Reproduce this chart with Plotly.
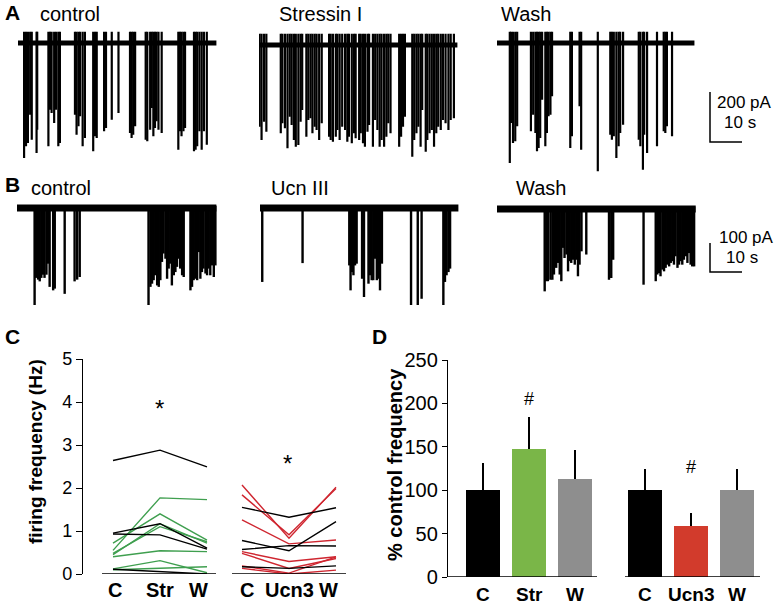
import plotly.graph_objects as go

W, H = 779, 606
FONT = "Liberation Sans, Arial, sans-serif"

# ---------------- DATA ----------------
# Panel A (spike times in s, spike peak amplitude in pA)
a_ctrl_t = [1.9, 2.5, 3.1, 3.8, 4.3, 5.8, 6.0, 9.5, 10.0, 10.5, 11.3, 11.9, 12.6, 13.1,
            17.8, 18.3, 18.9, 19.4, 20.2, 20.9, 23.5, 24.1, 24.6, 26.9, 27.5, 29.3, 31.4,
            35.0, 35.5, 36.0, 36.6, 39.9, 40.4, 41.3, 41.8, 42.3, 42.8, 43.3, 43.9, 44.9,
            50.1, 50.6, 51.1, 51.7, 52.2, 55.0, 55.5, 56.0, 56.7, 57.4, 58.1, 59.0]
a_ctrl_amp = [-460, -413, -400, -287, -387, -440, -347, -413, -267, -280, -320, -267, -413, -400,
              -287, -367, -333, -293, -413, -380, -433, -373, -380, -353, -340, -307, -280,
              -360, -380, -367, -333, -387, -393, -347, -260, -373, -340, -313, -347, -360,
              -427, -353, -373, -353, -340, -433, -427, -413, -353, -427, -353, -407]
a_str_t = [0.2, 0.8, 1.6, 2.3, 6.8, 7.3, 8.1, 8.9, 9.6, 10.2, 10.9, 11.5, 12.3, 13.0, 13.5,
           14.8, 15.4, 16.1, 16.7, 17.4, 18.0, 18.8, 19.6, 21.9, 22.4, 23.1, 24.0, 24.5, 25.2,
           26.0, 26.9, 27.6, 28.1, 29.0, 29.7, 30.2, 31.3, 31.8, 32.5, 33.1, 33.9, 34.4,
           35.6, 36.3, 37.0, 37.7, 38.3, 39.1, 39.8, 40.4, 41.1, 43.8, 44.4, 45.0, 45.6,
           47.9, 48.5, 49.2, 49.8, 50.5, 51.0, 52.1, 52.6, 53.3, 54.0, 54.7, 55.4, 56.0,
           56.8, 57.5, 58.3, 59.2, 59.9, 60.9]
a_str_amp = [-327, -380, -307, -347, -353, -313, -333, -413, -287, -320, -380, -407, -400, -307, -260,
             -367, -300, -293, -353, -327, -340, -380, -313, -367, -380, -387, -367, -340, -380,
             -327, -340, -387, -367, -393, -353, -373, -380, -353, -393, -407, -347, -320,
             -407, -300, -340, -407, -380, -407, -367, -313, -353, -407, -367, -327, -287,
             -447, -380, -353, -327, -407, -260, -427, -380, -353, -340, -407, -353, -327,
             -340, -300, -313, -340, -300, -293]
a_wash_t = [4.0, 4.4, 5.0, 5.7, 6.3, 10.6, 11.3, 12.0, 12.5, 13.0, 13.5, 14.1, 15.1, 15.6,
            16.1, 16.7, 17.2, 22.9, 23.4, 25.8, 26.3, 31.5, 35.4, 35.9, 36.5, 37.3, 38.0,
            38.5, 39.4, 44.3, 44.8, 45.6, 46.0, 46.9, 50.0, 52.1, 52.6, 53.1, 54.7]
a_wash_amp = [-480, -320, -400, -393, -333, -353, -287, -360, -433, -420, -380, -227, -413, -360,
              -293, -287, -213, -420, -373, -253, -427, -513, -367, -387, -373, -460, -413,
              -360, -327, -387, -413, -507, -367, -440, -413, -353, -360, -333, -373]
a_len = [62.0, 62.0, 61.7]          # recording length (s)
a_names = ["control", "Stressin I", "Wash"]

# Panel B
b_ctrl_t = [5.5, 6.0, 6.6, 7.1, 7.6, 8.1, 8.6, 9.2, 9.7, 10.2, 11.3, 11.8, 14.9, 18.0, 18.8, 19.6,
            41.1, 41.7, 42.2, 42.7, 43.2, 43.8, 44.3, 44.8, 45.3, 45.8, 46.4, 46.9, 47.4, 47.9,
            48.4, 49.0, 49.5, 50.0, 50.5, 51.0, 51.6, 52.1,
            54.2, 54.7, 55.2, 55.7, 56.3, 56.8, 57.3, 57.8, 58.3, 58.9, 59.4, 59.9, 60.4, 60.9, 61.5, 62.0]
b_ctrl_amp = [-347, -241, -247, -253, -241, -230, -241, -230, -192, -272, -284, -278, -296, -253, -247, -238,
              -353, -272, -261, -249, -232, -267, -272, -249, -186, -157, -175, -244, -209, -192,
              -267, -232, -221, -203, -175, -209, -232, -238,
              -284, -272, -249, -244, -249, -152, -244, -221, -209, -226, -232, -209, -232, -198, -238, -198]
b_ucn_t = [0.7, 13.3, 27.9, 28.3, 28.8, 29.2, 29.7, 30.2, 31.9, 32.5, 33.9, 34.4, 34.9, 35.4,
           35.9, 36.5, 37.0, 37.5, 38.1, 47.2, 49.3, 50.5, 57.3, 57.8, 58.3, 58.9, 59.4]
b_ucn_amp = [-255, -190, -198, -284, -221, -232, -198, -192, -244, -307, -261, -232, -249, -249,
             -175, -249, -244, -284, -192, -336, -336, -313, -336, -255, -232, -221, -209]
b_wash_t = [14.9, 15.4, 15.9, 16.7, 17.3, 17.8, 18.5, 19.1, 19.6, 20.1, 20.6, 21.1, 21.7, 22.2,
            22.7, 23.2, 23.8, 24.3, 24.8, 25.3, 25.8, 26.4, 27.9, 35.0, 35.7, 36.3, 45.8,
            49.6, 50.1, 50.6, 51.1, 51.7, 52.2, 52.7, 53.2, 53.8, 54.3, 54.8, 55.3, 55.8,
            56.4, 56.9, 57.4, 57.9, 58.4, 59.0, 59.5, 60.0, 60.5, 61.0, 61.6]
b_wash_amp = [-284, -249, -249, -244, -244, -226, -203, -186, -226, -249, -134, -169, -157, -215,
              -180, -186, -175, -192, -175, -232, -192, -146, -157, -244, -238, -175, -261,
              -249, -226, -221, -232, -209, -215, -203, -192, -198, -186, -180, -192, -163,
              -203, -192, -180, -192, -175, -163, -186, -152, -192, -198, -198]
b_len = [62.3, 62.0, 62.1]
b_names = ["control", "Ucn III", "Wash"]

# Panel C (firing frequency, Hz) : each row = [C, treatment, W]
c_str_labels = ["C", "Str", "W"]
c_ucn_labels = ["C", "Ucn3", "W"]
c_str_green = [[0.55, 1.77, 1.73], [0.72, 1.40, 0.79], [0.48, 1.10, 0.75], [0.45, 1.17, 0.72],
               [0.40, 0.54, 0.52], [0.12, 0.31, 0.03], [0.10, 0.13, 0.17]]
c_str_black = [[2.64, 2.88, 2.49], [0.95, 1.17, 0.60], [0.93, 0.91, 0.58], [0.11, 0.05, 0.0]]
c_ucn_red = [[2.07, 0.83, 2.02], [1.84, 0.91, 1.99], [1.26, 0.70, 0.79], [0.52, 0.29, 0.40],
             [0.48, 0.13, 0.36], [0.19, 0.02, 0.40], [0.13, 0.0, 0.09]]
c_ucn_black = [[1.55, 1.32, 1.54], [0.78, 0.54, 1.22], [0.57, 0.66, 0.65], [0.17, 0.13, 0.19]]

# Panel D (% control frequency)
d_str_labels = ["C", "Str", "W"]
d_str_mean = [100, 148, 113]
d_str_sem = [31, 36, 33]
d_ucn_labels = ["C", "Ucn3", "W"]
d_ucn_mean = [100, 59, 100]
d_ucn_sem = [24, 15, 25]

# ---------------- STYLE ----------------
GREEN_L = "#3f9f4f"
RED_L = "#cf2630"
BAR_STR = ["#000000", "#7ab648", "#8e8e8e"]
BAR_UCN = ["#000000", "#d23b2c", "#8e8e8e"]

fig = go.Figure()
annotations = []


def axname(i):
    return "" if i == 1 else str(i)


def set_axes(i, xpx, ypx, xr, yr, yaxis_extra=None):
    s = axname(i)
    xa = dict(domain=[xpx[0] / W, xpx[1] / W], range=xr, visible=False,
              anchor="y" + s, fixedrange=True, automargin=False)
    ya = dict(domain=[1 - ypx[1] / H, 1 - ypx[0] / H], range=yr, visible=False,
              anchor="x" + s, fixedrange=True, automargin=False)
    if yaxis_extra:
        ya.update(yaxis_extra)
    fig.update_layout(**{"xaxis" + s: xa, "yaxis" + s: ya})


def ann(text, xpx, ypx, size, xanchor="center", angle=0, color="black"):
    annotations.append(dict(
        text=text, x=xpx / W, y=1 - ypx / H,
        xref="paper", yref="paper", xanchor=xanchor, yanchor="middle",
        showarrow=False, textangle=angle,
        font=dict(family=FONT, size=size, color=color)))


def add_record(i, t, amp, length, up, base_w, spike_w):
    s = axname(i)
    xs, ys = [], []
    for ti, ai in zip(t, amp):
        xs += [ti, ti, None]
        ys += [up, ai, None]
    fig.add_trace(go.Scatter(x=[0, length], y=[0, 0], mode="lines",
                             line=dict(color="black", width=base_w),
                             xaxis="x" + s, yaxis="y" + s, hoverinfo="skip"))
    fig.add_trace(go.Scatter(x=xs, y=ys, mode="lines",
                             line=dict(color="black", width=spike_w),
                             xaxis="x" + s, yaxis="y" + s, hoverinfo="skip"))


# ----- Panel A -----
PX_S = 3.2          # px per second
A_PX_PA = 0.25      # px per pA
a_left = [18, 259, 497]
a_base = [43, 45, 43]
a_right = [218, 460, 752]
a_data = [(a_ctrl_t, a_ctrl_amp), (a_str_t, a_str_amp), (a_wash_t, a_wash_amp)]
for k in range(3):
    top, bot = 20, 175
    set_axes(k + 1, (a_left[k], a_right[k]), (top, bot),
             [0, (a_right[k] - a_left[k]) / PX_S],
             [-(bot - a_base[k]) / A_PX_PA, (a_base[k] - top) / A_PX_PA])
    add_record(k + 1, a_data[k][0], a_data[k][1], a_len[k], 45, 5, 2.2)

# scale bar A (200 pA, 10 s) on wash axes
sb_t0 = (710 - a_left[2]) / PX_S
fig.add_trace(go.Scatter(x=[sb_t0, sb_t0, sb_t0 + 10], y=[-196, -396, -396], mode="lines",
                         line=dict(color="black", width=1.5), xaxis="x3", yaxis="y3",
                         hoverinfo="skip"))

# ----- Panel B -----
B_PX_PA = 0.29
b_left = [17, 260, 497]
b_base = [208, 208, 209]
b_right = [218, 460, 752]
b_data = [(b_ctrl_t, b_ctrl_amp), (b_ucn_t, b_ucn_amp), (b_wash_t, b_wash_amp)]
for k in range(3):
    top, bot = 195, 305
    set_axes(k + 4, (b_left[k], b_right[k]), (top, bot),
             [0, (b_right[k] - b_left[k]) / PX_S],
             [-(bot - b_base[k]) / B_PX_PA, (b_base[k] - top) / B_PX_PA])
    add_record(k + 4, b_data[k][0], b_data[k][1], b_len[k], 8, 7, 2.4)

sb_t0b = (710 - b_left[2]) / PX_S
fig.add_trace(go.Scatter(x=[sb_t0b, sb_t0b, sb_t0b + 10], y=[-117, -217, -217], mode="lines",
                         line=dict(color="black", width=1.5), xaxis="x6", yaxis="y6",
                         hoverinfo="skip"))

# ----- Panel C -----
C_UNIT = 47.0
C_X0 = 113
C_OFF = (242 - 113) / C_UNIT
yext_c = dict(visible=True, showline=True, linecolor="black", linewidth=1.3,
              ticks="outside", ticklen=6, tickwidth=1.3, tickcolor="black",
              tickfont=dict(family=FONT, size=18, color="black"),
              tickmode="array", tickvals=[0, 1, 2, 3, 4, 5], showgrid=False, zeroline=False)
set_axes(7, (83, 352), (359, 574),
         [(83 - C_X0) / C_UNIT, (352 - C_X0) / C_UNIT], [0, 5], yext_c)

pos_l = [0, 1, 2]
pos_r = [p + C_OFF for p in pos_l]
for row in c_str_green:
    fig.add_trace(go.Scatter(x=pos_l, y=row, mode="lines", line=dict(color=GREEN_L, width=1.4),
                             xaxis="x7", yaxis="y7", hoverinfo="skip", cliponaxis=False))
for row in c_str_black:
    fig.add_trace(go.Scatter(x=pos_l, y=row, mode="lines", line=dict(color="black", width=1.4),
                             xaxis="x7", yaxis="y7", hoverinfo="skip", cliponaxis=False))
for row in c_ucn_red:
    fig.add_trace(go.Scatter(x=pos_r, y=row, mode="lines", line=dict(color=RED_L, width=1.4),
                             xaxis="x7", yaxis="y7", hoverinfo="skip", cliponaxis=False))
for row in c_ucn_black:
    fig.add_trace(go.Scatter(x=pos_r, y=row, mode="lines", line=dict(color="black", width=1.4),
                             xaxis="x7", yaxis="y7", hoverinfo="skip", cliponaxis=False))
for seg in ([(102 - C_X0) / C_UNIT, (216 - C_X0) / C_UNIT],
            [(232 - C_X0) / C_UNIT, (346 - C_X0) / C_UNIT]):
    fig.add_trace(go.Scatter(x=seg, y=[0, 0], mode="lines", line=dict(color="black", width=1.5),
                             xaxis="x7", yaxis="y7", hoverinfo="skip", cliponaxis=False))

for lab, xp in zip(c_str_labels, [115, 160, 198]):
    ann("<b>%s</b>" % lab, xp, 590, 20)
for lab, xp in zip(c_ucn_labels, [247, 289, 328]):
    ann("<b>%s</b>" % lab, xp, 590, 20)
ann("*", 159, 408, 24)
ann("*", 287, 463, 24)
ann("<b>firing frequency (Hz)</b>", 35, 452, 19, angle=-90)

# ----- Panel D -----
D_UNIT = 46.0
D_X0 = 483
D_OFF = (645 - 483) / D_UNIT
yext_d = dict(visible=True, showline=True, linecolor="black", linewidth=1.3,
              ticks="outside", ticklen=5, tickwidth=1.3, tickcolor="black",
              tickfont=dict(family=FONT, size=20, color="black"),
              tickmode="array", tickvals=[0, 50, 100, 150, 200, 250], showgrid=False, zeroline=False)
set_axes(8, (448, 775), (360, 577),
         [(448 - D_X0) / D_UNIT, (775 - D_X0) / D_UNIT], [0, 250], yext_d)

dpos_l = [0, 1, 2]
dpos_r = [p + D_OFF for p in dpos_l]
for pos, mean, sem, cols in ((dpos_l, d_str_mean, d_str_sem, BAR_STR),
                             (dpos_r, d_ucn_mean, d_ucn_sem, BAR_UCN)):
    fig.add_trace(go.Bar(x=pos, y=mean, width=0.74, marker=dict(color=cols, line=dict(width=0)),
                         error_y=dict(type="data", array=sem, arrayminus=[0] * len(sem),
                                      symmetric=False, color="black", thickness=2, width=0),
                         xaxis="x8", yaxis="y8", hoverinfo="skip"))
for seg in ([(448 - D_X0) / D_UNIT, (597 - D_X0) / D_UNIT],
            [(625 - D_X0) / D_UNIT, (760 - D_X0) / D_UNIT]):
    fig.add_trace(go.Scatter(x=seg, y=[0, 0], mode="lines", line=dict(color="black", width=1.5),
                             xaxis="x8", yaxis="y8", hoverinfo="skip", cliponaxis=False))
for lab, xp in zip(d_str_labels + d_ucn_labels, [483, 529, 575, 645, 691, 737]):
    ann("<b>%s</b>" % lab, xp, 594, 19)
ann("#", 529, 399, 18)
ann("#", 691, 467, 18)
ann("<b>% control frequency</b>", 395, 465, 20, angle=-90)

# ----- Text labels A/B -----
ann("<b>A</b>", 3, 13, 21, xanchor="left")
ann("<b>B</b>", 3, 185, 21, xanchor="left")
ann("<b>C</b>", 3, 336, 21, xanchor="left")
ann("<b>D</b>", 370, 336, 21, xanchor="left")
for name, xp in zip(a_names, [38, 277, 499]):
    ann(name, xp, 14, 20, xanchor="left")
for name, xp in zip(b_names, [29, 269, 514]):
    ann(name, xp, 188, 20, xanchor="left")
ann("200 pA", 715, 102, 17, xanchor="left")
ann("10 s", 722, 122, 17, xanchor="left")
ann("100 pA", 717, 237, 17, xanchor="left")
ann("10 s", 724, 258, 17, xanchor="left")

fig.update_layout(width=W, height=H, margin=dict(l=0, r=0, t=0, b=0, autoexpand=False),
                  paper_bgcolor="white", plot_bgcolor="rgba(0,0,0,0)",
                  showlegend=False, annotations=annotations, bargap=0,
                  font=dict(family=FONT, color="black"))
fig.write_html("out.html", config={"displayModeBar": False},
               post_script="document.body.style.margin='0px';")
